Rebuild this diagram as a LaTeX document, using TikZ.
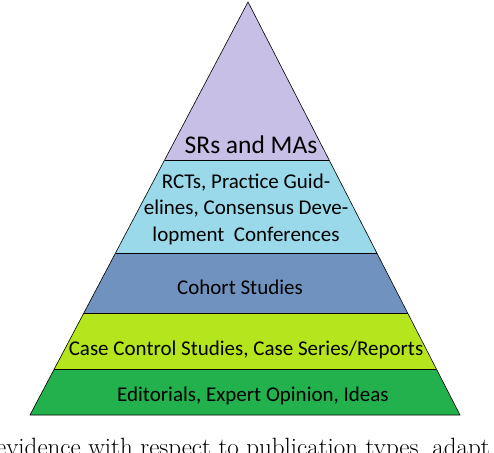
\documentclass[tikz,border=0pt]{standalone}
\usepackage{fontspec}
\newfontfamily\calib{Carlito}
\definecolor{lav}{HTML}{C8BFE7}
\definecolor{turq}{HTML}{99D9EA}
\definecolor{bgray}{HTML}{7092BE}
\definecolor{lime}{HTML}{B5E61D}
\definecolor{pgreen}{HTML}{22B14C}
\tikzset{
  layer/.style={draw=black, line width=0.6pt, line join=miter},
  lbl/.style={font=\calib\fontsize{21}{26.5}\selectfont, inner sep=0pt, text=black},
}
\begin{document}
\begin{tikzpicture}[x=1pt,y=-1pt]
\useasboundingbox (0,0) rectangle (494,452);
% level coordinates
\coordinate (apex) at (248,2);
\coordinate (l1) at (164.6,160); \coordinate (r1) at (329.1,160);
\coordinate (l2) at (115.5,253); \coordinate (r2) at (376.8,253);
\coordinate (l3) at (83.8,313);  \coordinate (r3) at (407.5,313);
\coordinate (l4) at (54.2,369);  \coordinate (r4) at (436.3,369);
\coordinate (l5) at (30,415);    \coordinate (r5) at (460,415);
\fill[lav] (apex) -- (r1) -- (l1) -- cycle;
\fill[turq] (l1) -- (r1) -- (r2) -- (l2) -- cycle;
\fill[bgray] (l2) -- (r2) -- (r3) -- (l3) -- cycle;
\fill[lime] (l3) -- (r3) -- (r4) -- (l4) -- cycle;
\fill[pgreen] (l4) -- (r4) -- (r5) -- (l5) -- cycle;
\draw[layer] (apex) -- (r5) -- (l5) -- cycle;
\draw[layer] (l1) -- (r1);
\draw[layer] (l2) -- (r2);
\draw[layer] (l3) -- (r3);
\draw[layer] (l4) -- (r4);
% labels
\node[lbl, font=\calib\fontsize{25.5}{28}\selectfont] (t1) at (251,145) {SRs and MAs};
\node[lbl, align=center] (t2) at (246,209) {RCTs, Practice Guid-\\elines, Consensus Deve-\\lopment\ \ Conferences};
\node[lbl] (t3) at (240,287) {Cohort Studies};
\node[lbl] (t4) at (246,350) {Case Control Studies, Case Series/Reports};
\node[lbl] (t5) at (253,396) {Editorials, Expert Opinion, Ideas};
\node[anchor=base west, inner sep=0pt, font=\fontsize{25}{28}\selectfont] (cap) at (-4,455) {evidence with respect to publication types, adapt};
\end{tikzpicture}
\end{document}
